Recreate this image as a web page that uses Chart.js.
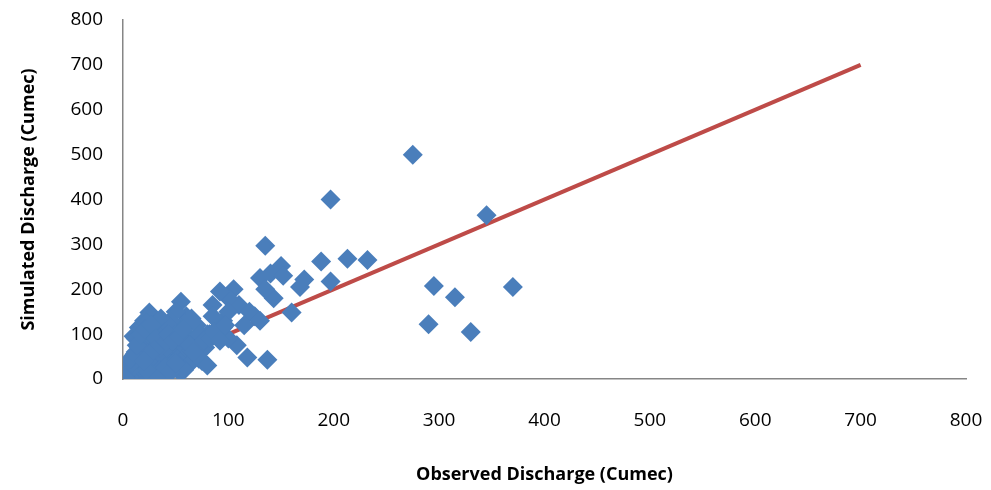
<!DOCTYPE html>
<html>
<head>
<script src="https://cdn.jsdelivr.net/npm/chart.js@4"></script>
<style>
body { margin: 0; background: #fff; }
#wrap { width: 991px; height: 490px; }
</style>
</head>
<body>
<div id="wrap"><canvas id="grafico"></canvas></div>
<script>
var obsX = [275, 197, 345, 135, 370, 295, 315, 290, 330, 137, 232, 213, 188, 150, 172, 197, 168, 130, 140, 152, 160, 143, 135, 105, 110, 120, 100, 92, 85, 118, 108, 100,
    125, 130, 115, 95, 90, 80, 75, 70, 65, 60, 55, 52, 50, 48, 45, 42, 40, 38, 35, 32, 30, 28, 25, 22, 20, 18, 15, 12, 10, 8, 5, 3, 1,
    60, 58, 55, 50, 45, 40, 35, 30, 25, 20, 15, 10, 70, 65, 62, 68, 72, 78, 82, 88, 95, 100, 85, 75,
    25, 28, 30, 33, 38, 42, 46, 52, 56, 62, 66, 20, 15, 12, 18, 22, 26, 35, 44, 48, 54, 58,
    5, 8, 10, 14, 3, 6, 2, 12, 16, 24, 30, 36, 40, 45, 50, 55, 60, 65, 70, 75, 80, 28, 34, 18, 22,
    0, 1, 2, 4, 0, 3, 6, 9, 2, 7, 11, 13, 17, 21, 27, 31, 37, 43, 47, 53, 57, 63, 67, 73, 77, 83, 87, 92, 97, 35, 40, 45, 50, 30, 25, 20];
var simY = [500, 400, 365, 297, 205, 207, 182, 122, 105, 43, 265, 268, 262, 252, 222, 217, 205, 225, 235, 230, 148, 180, 200, 200, 165, 150, 180, 195, 165, 48, 75, 90,
    140, 130, 120, 115, 110, 100, 95, 90, 85, 80, 75, 70, 65, 60, 55, 50, 45, 40, 38, 35, 30, 28, 25, 22, 20, 18, 15, 12, 10, 8, 5, 3, 1,
    140, 125, 172, 150, 130, 120, 110, 105, 148, 130, 115, 95, 120, 135, 95, 60, 45, 70, 100, 110, 130, 150, 140, 80,
    80, 60, 40, 30, 50, 70, 90, 45, 30, 55, 40, 50, 70, 90, 110, 125, 95, 20, 25, 35, 15, 20,
    10, 15, 30, 40, 20, 5, 8, 60, 85, 100, 120, 135, 105, 115, 100, 90, 70, 65, 50, 40, 30, 10, 5, 40, 20,
    0, 5, 12, 20, 8, 25, 18, 35, 2, 45, 55, 75, 100, 110, 120, 90, 80, 100, 85, 95, 110, 75, 60, 100, 85, 90, 105, 85, 120, 70, 25, 15, 35, 65, 55, 40];
var lineaX = [0, 700];
var lineaY = [0, 700];

var fonte = '"Open Sans", "Liberation Sans", sans-serif';
var ticks = { font: { family: fonte, size: 19 }, color: '#000' };

new Chart(document.getElementById('grafico'), {
    type: 'scatter',
    data: {
        datasets: [{
            data: obsX.map((x, i) => ({ x: x, y: simY[i] })),
            pointStyle: 'rectRot',
            pointRadius: 10,
            backgroundColor: '#4a7ebb',
            borderColor: '#4a7ebb',
            borderWidth: 0,
            order: 1
        }, {
            type: 'line',
            data: lineaX.map((x, i) => ({ x: x, y: lineaY[i] })),
            borderColor: '#be4b48',
            borderWidth: 4,
            pointRadius: 0,
            order: 2
        }]
    },
    options: {
        responsive: true,
        maintainAspectRatio: false,
        animation: false,
        layout: { padding: { top: 20, right: 25, left: 14, bottom: 0 } },
        plugins: { legend: { display: false }, tooltip: { enabled: false } },
        scales: {
            x: {
                min: 0, max: 800,
                afterFit: (s) => { s.height = 111; s.paddingLeft = 0; s.paddingRight = 0; },
                ticks: Object.assign({ stepSize: 100, padding: 24 }, ticks),
                grid: { display: false, drawTicks: true, tickLength: 6, color: '#868686' },
                border: { color: '#868686', width: 1.5 },
                title: { display: true, text: 'Observed Discharge (Cumec)', color: '#000', padding: { top: 10 },
                    font: { family: fonte, size: 18, weight: 'bold' } }
            },
            y: {
                min: 0, max: 800,
                afterFit: (s) => { s.width = 109; s.paddingTop = 0; s.paddingBottom = 0; },
                ticks: Object.assign({ stepSize: 100, padding: 14 }, ticks),
                grid: { display: false, drawTicks: true, tickLength: 6, color: '#868686' },
                border: { color: '#868686', width: 1.5 },
                title: { display: true, text: 'Simulated Discharge (Cumec)', color: '#000',
                    font: { family: fonte, size: 18, weight: 'bold' } }
            }
        }
    }
});
</script>
</body>
</html>
